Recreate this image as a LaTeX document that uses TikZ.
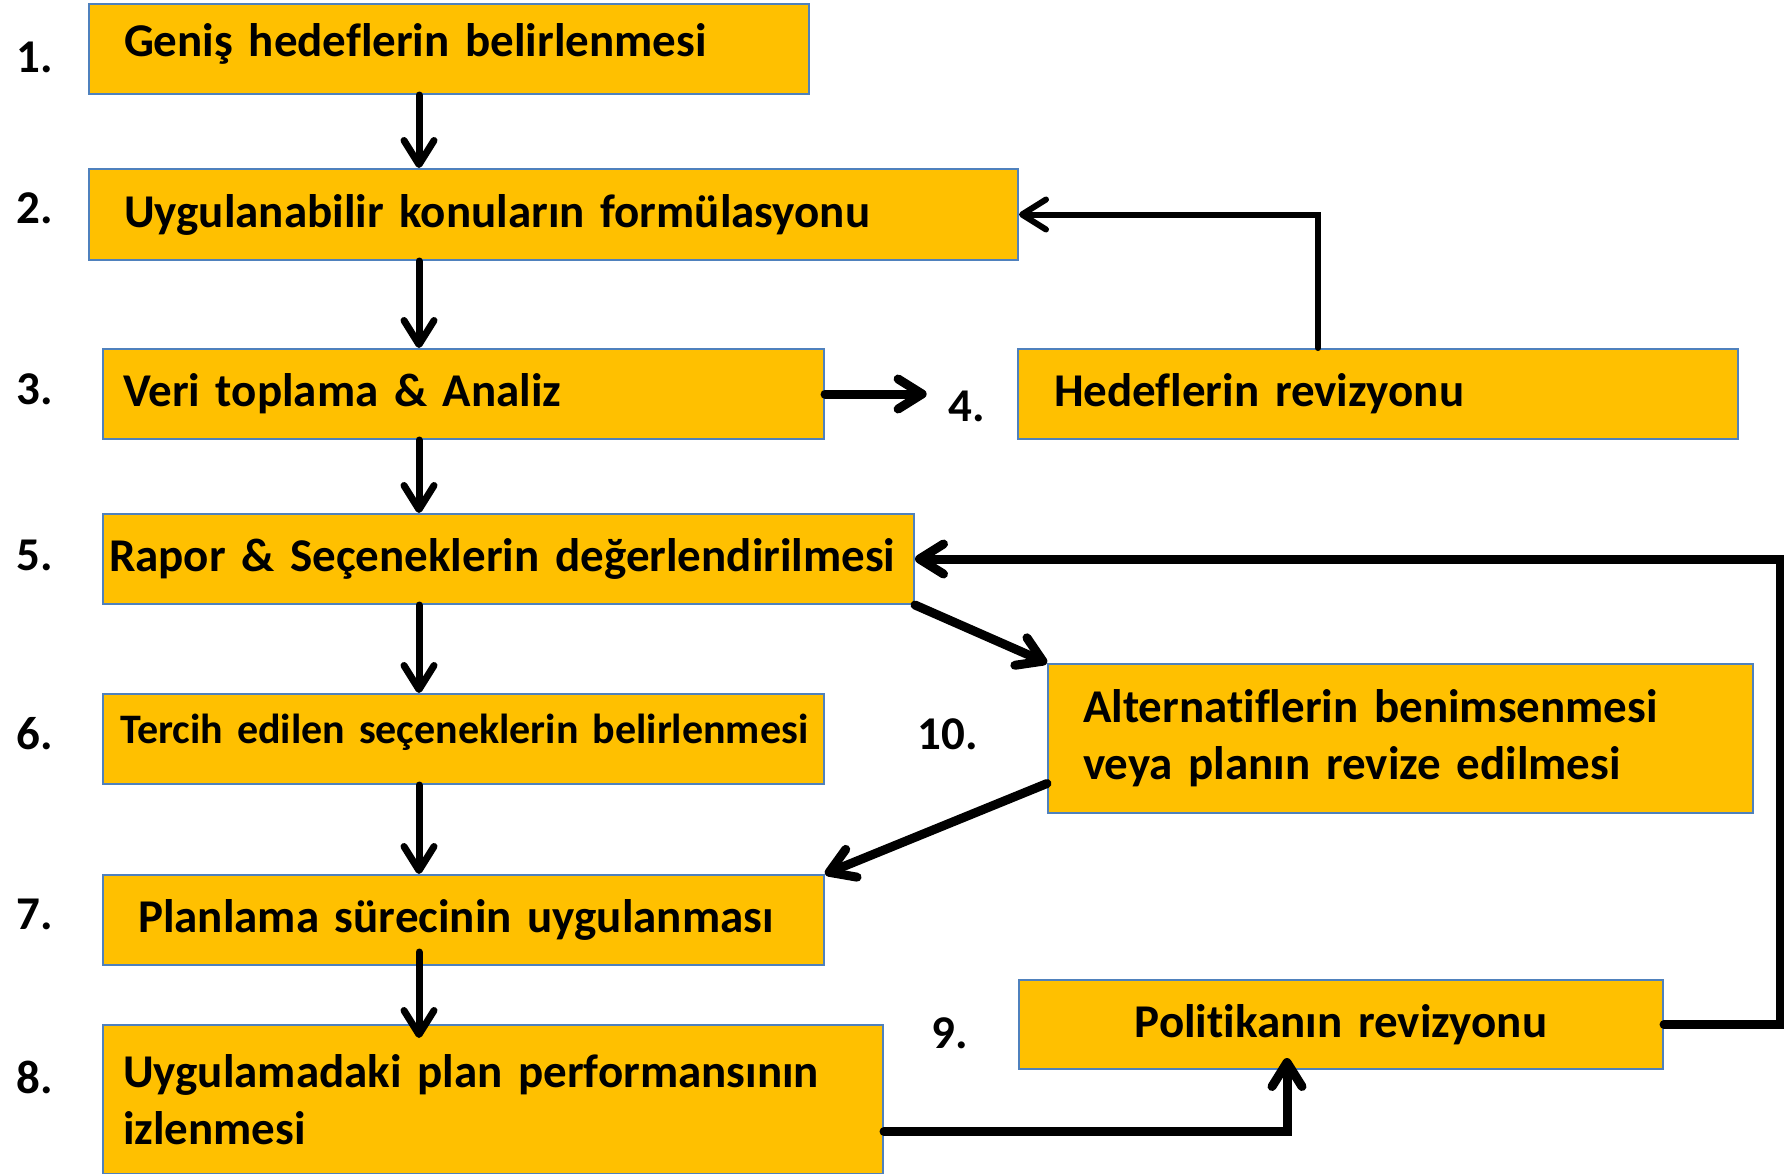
\documentclass[tikz,border=0pt]{standalone}
\usepackage{fontspec}
\setmainfont{Carlito}[Ligatures = NoCommon]
\usetikzlibrary{arrows.meta}
\definecolor{gold}{HTML}{FFC000}
\definecolor{edge}{HTML}{4F81BD}
\begin{document}
\begin{tikzpicture}[x = 1pt, y = -1pt,
		box/.style = {draw = edge, line width = 2pt, fill = gold, anchor = north west, align = left, inner ysep = 0pt, font = \fontsize{47}{57}\selectfont\bfseries},
		num/.style = {font = \fontsize{47}{57}\selectfont\bfseries, inner sep = 0pt},
		arr/.style = {line width = 7pt, line cap = round, -{Straight Barb[round, length = 24pt, width = 30pt]}},
		heavy/.style = {arr, line width = 9pt}]
	\useasboundingbox (0,0)rectangle(1784,1173);

	\node (b1)[box, minimum height = 90pt, inner xsep = 35pt, text width = 650pt, text depth = 17pt] at(88, 3)  {Geniş hedeflerin belirlenmesi};
	\node (b2)[box, minimum height = 91pt, inner xsep = 35pt, text width = 859pt] at(88, 168)  {Uygulanabilir konuların formülasyonu};
	\node (b3)[box, minimum height = 90pt, inner xsep = 20pt, text width = 681pt] at(102, 348)  {Veri toplama \& Analiz};
	\node (b4)[box, minimum height = 90pt, inner xsep = 36pt, text width = 648pt] at(1017, 348)  {Hedeflerin revizyonu};
	\node (b5)[box, minimum height = 90pt, inner xsep = 6pt, text width = 799pt] at(102, 513)  {Rapor \& Seçeneklerin değerlendirilmesi};
	\node (b6)[box, minimum height = 90pt, inner xsep = 17pt, text width = 687pt, text depth = 21pt, font = \fontsize{42}{50}\selectfont\bfseries] at(102, 693)  {\mbox{Tercih edilen seçeneklerin belirlenmesi}};
	\node (b7)[box, minimum height = 90pt, inner xsep = 35pt, text width = 651pt] at(102, 874)  {Planlama sürecinin uygulanması};
	\node (b8)[box, minimum height = 149pt, inner xsep = 20pt, text width = 740pt] at(102, 1024)  {Uygulamadaki plan performansının\\izlenmesi};
	\node (b9)[box, minimum height = 89pt, inner xsep = 10pt, text width = 624pt, align = center] at(1018, 979)  {Politikanın revizyonu};
	\node (b10)[box, minimum height = 149pt, inner xsep = 35pt, text width = 635pt] at(1047, 663)  {Alternatiflerin benimsenmesi\\veya planın revize edilmesi};

	\node (n1)[num] at(35, 57)  {1.};
	\node (n2)[num] at(35, 208)  {2.};
	\node (n3)[num] at(35, 389)  {3.};
	\node (n4)[num] at(967, 406)  {4.};
	\node (n5)[num] at(35, 555)  {5.};
	\node (n6)[num] at(35, 734)  {6.};
	\node (n7)[num] at(35, 914)  {7.};
	\node (n8)[num] at(35, 1077)  {8.};
	\node (n9)[num] at(950, 1033)  {9.};
	\node (n10)[num] at(948, 734)  {10.};

	\coordinate (vx) at(419, 0);
	\coordinate (lx) at(1318, 0);
	\coordinate (rx) at(1780, 0);
	\coordinate (ux) at(1287, 0);

	\draw [arr](vx |- b1.south)--(vx |- b2.north);
	\draw [arr](vx |- b2.south)--(vx |- b3.north);
	\draw [arr](vx |- b3.south)--(vx |- b5.north);
	\draw [arr](vx |- b5.south)--(vx |- b6.north);
	\draw [arr](vx |- b6.south)--(vx |- b7.north);
	\draw [arr]([yshift = 14pt]vx |- b7.south)--([yshift = -14pt]vx |- b8.north);

	\draw [heavy](b3.east)--([xshift = -22pt]b3.east -| n4.west);
	\draw [arr, line width = 6pt](lx |- b4.north)|-(b2.east);
	\draw [heavy](b5.south east)--(b10.north west);
	\draw [heavy]([yshift = -45pt]b10.west)--(b7.north east);
	\draw [heavy](b9.east)--(rx |- b9.east)|-(b5.east);
	\draw [heavy]([yshift = -32pt]b8.east)-|([yshift = 12pt]ux |- b9.south);
\end{tikzpicture}
\end{document}
